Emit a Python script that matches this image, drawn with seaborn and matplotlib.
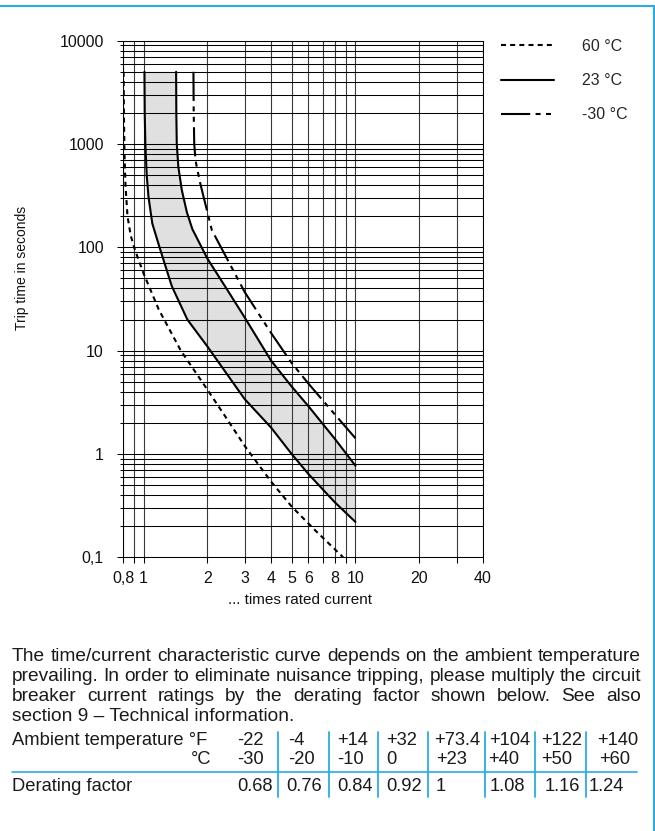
import matplotlib
matplotlib.use("Agg")
import matplotlib.pyplot as plt
from matplotlib.lines import Line2D
from matplotlib.ticker import FixedLocator, FixedFormatter, NullFormatter
import pandas as pd
import seaborn as sns

# ---------------- data ----------------
current_60 = [0.805, 0.808, 0.813, 0.822, 0.84, 0.87, 0.91, 1.0, 1.18, 1.5, 2.0, 2.4, 3.0, 4.0, 5.0, 6.5, 8.75]
time_60 = [5000, 2000, 800, 400, 200, 130, 95, 56, 25, 10, 4.2, 2.4, 1.2, 0.54, 0.31, 0.18, 0.1]

current_23_low = [1.01, 1.013, 1.02, 1.035, 1.055, 1.1, 1.19, 1.36, 1.61, 2.0, 3.0, 4.0, 5.0, 6.0, 8.0, 10.0]
time_23_low = [5000, 2000, 1000, 500, 310, 170, 100, 42, 20, 11, 3.4, 1.8, 1.0, 0.64, 0.34, 0.22]

current_23_high = [1.425, 1.428, 1.435, 1.46, 1.515, 1.6, 1.7, 2.0, 2.5, 3.0, 4.0, 5.0, 6.0, 8.0, 10.0]
time_23_high = [5000, 2000, 1000, 600, 360, 220, 150, 78, 38, 21, 8.0, 4.5, 2.9, 1.4, 0.77]

current_m30 = [1.72, 1.725, 1.735, 1.75, 1.77, 1.85, 2.0, 2.1, 2.5, 3.0, 4.0, 5.0, 6.0, 8.0, 10.0]
time_m30 = [5000, 2000, 1000, 800, 650, 420, 220, 147, 75, 37, 14.8, 7.6, 4.8, 2.41, 1.42]

legend_labels = ["60 °C", "23 °C", "-30 °C"]

x_ticks = [0.8, 1, 2, 3, 4, 5, 6, 8, 10, 20, 40]
x_tick_labels = ["0,8", "1", "2", "3", "4", "5", "6", "8", "10", "20", "40"]
x_minor_ticks = [0.9, 7, 9, 30]
y_ticks = [0.1, 1, 10, 100, 1000, 10000]
y_tick_labels = ["0,1", "1", "10", "100", "1000", "10000"]

x_label = "... times rated current"
y_label = "Trip time in seconds"

paragraph = [
    "The time/current characteristic curve depends on the ambient temperature",
    "prevailing. In order to eliminate nuisance tripping, please multiply the circuit",
    "breaker current ratings by the derating factor shown below. See also",
    "section 9 \u2013 Technical information.",
]

row_label_F = "Ambient temperature °F"
row_label_C = "°C"
row_label_D = "Derating factor"
temps_F = ["-22", "-4", "+14", "+32", "+73.4", "+104", "+122", "+140"]
temps_C = ["-30", "-20", "-10", "0", "+23", "+40", "+50", "+60"]
derating = ["0.68", "0.76", "0.84", "0.92", "1", "1.08", "1.16", "1.24"]

# ---------------- build table for seaborn ----------------
records = []
for temp, unit, xs, ys in [
    ("60 °C", "a", current_60, time_60),
    ("23 °C", "b", current_23_low, time_23_low),
    ("23 °C", "c", current_23_high, time_23_high),
    ("-30 °C", "d", current_m30, time_m30),
]:
    for x, y in zip(xs, ys):
        records.append({"current": x, "time": y, "temp": temp, "curve": unit})
df = pd.DataFrame(records)

# ---------------- style ----------------
sns.set_style("white")
plt.rcParams["font.family"] = ["Liberation Sans", "DejaVu Sans"]
BLUE = "#2aabe2"
W, H = 655, 831
fig = plt.figure(figsize=(W / 100, H / 100), dpi=100)
fig.patch.set_facecolor("white")


def fx(px):
    return px / W


def fy(py):
    return 1 - py / H


ax = fig.add_axes([fx(123), fy(557.3), fx(483) - fx(123), fy(40.7) - fy(557.3)])
ax.set_xscale("log")
ax.set_yscale("log")

# grey band between the two 23 °C curves
band_x = list(current_23_high) + list(current_23_low[::-1])
band_y = list(time_23_high) + list(time_23_low[::-1])
ax.fill(band_x, band_y, color="#e0e0e0", lw=0, zorder=1)

dash_map = {"60 °C": (2.4, 2.0), "23 °C": "", "-30 °C": (14, 2.6, 2.4, 2.6, 2.4, 2.6)}
sns.lineplot(data=df, x="current", y="time", style="temp", units="curve",
             estimator=None, sort=False, color="black", linewidth=1.5,
             style_order=legend_labels, dashes=dash_map, ax=ax, zorder=3)

ax.set_xlim(0.8, 40)
ax.set_ylim(0.1, 10000)

ax.xaxis.set_major_locator(FixedLocator(x_ticks))
ax.xaxis.set_major_formatter(FixedFormatter(x_tick_labels))
ax.xaxis.set_minor_locator(FixedLocator(x_minor_ticks))
ax.xaxis.set_minor_formatter(NullFormatter())
ax.yaxis.set_major_locator(FixedLocator(y_ticks))
ax.yaxis.set_major_formatter(FixedFormatter(y_tick_labels))
ax.yaxis.set_minor_locator(FixedLocator([m * 10.0 ** e for e in range(-1, 4) for m in range(2, 10)]))
ax.yaxis.set_minor_formatter(NullFormatter())

ax.tick_params(axis="x", which="both", direction="out", length=4.2, width=0.75,
               color="black", labelsize=11.5, pad=5.5, bottom=True)
ax.tick_params(axis="y", which="major", direction="out", length=4.2, width=0.75,
               color="black", labelsize=11.5, pad=9.5, left=True)
ax.tick_params(axis="y", which="minor", direction="out", length=2.0, width=0.75,
               color="black", left=True)
ax.tick_params(labelcolor="#111111")

ax.set_axisbelow("line")
ax.yaxis.grid(True, which="both", color="black", linewidth=0.75)
ax.xaxis.grid(True, which="both", color="#3a3a3a", linewidth=0.8)
for s in ax.spines.values():
    s.set_visible(True)
    s.set_color("black")
    s.set_linewidth(0.75)

ax.set_xlabel(x_label, fontsize=11, va="center", ha="center", color="#111111")
ax.xaxis.set_label_coords((300 - 123) / 360, (557.3 - 600.5) / 516.6)
ax.set_ylabel(y_label, fontsize=10, va="center", ha="center", color="#111111")
ax.yaxis.set_label_coords((22.5 - 123) / 360, 1 - (268.3 - 40.7) / 516.6)

sns.move_legend(ax, "upper left", bbox_to_anchor=(fx(501), fy(39)),
                bbox_transform=fig.transFigure, frameon=False, title=None,
                fontsize=11.5, handlelength=3.3, handletextpad=1.75,
                labelspacing=1.2, borderpad=0, borderaxespad=0)

# ---------------- text below chart ----------------
renderer = fig.canvas.get_renderer()


def width_of(s, size):
    t = fig.text(0, 0, s, fontsize=size)
    w = t.get_window_extent(renderer).width
    t.remove()
    return w


TXT = "#1a1a1a"
x0, x1 = 12, 641
para_size = 12 * (x1 - x0) / width_of(paragraph[0], 12)
para_base = [661, 681, 701, 721]
for i, line in enumerate(paragraph):
    if i < 3:
        words = line.split(" ")
        widths = [width_of(w, para_size) for w in words]
        gap = ((x1 - x0) - sum(widths)) / (len(words) - 1)
        x = x0
        for w, wd in zip(words, widths):
            fig.text(fx(x), fy(para_base[i]), w, fontsize=para_size, va="baseline", color=TXT)
            x += wd + gap
    else:
        fig.text(fx(x0), fy(para_base[i]), line, fontsize=para_size, va="baseline", color=TXT)

tab_size = 12 * 196 / width_of(row_label_F, 12)
row_base = [745, 764.5, 791]
fig.text(fx(12), fy(row_base[0]), row_label_F, fontsize=tab_size, va="baseline", color=TXT)
fig.text(fx(191), fy(row_base[1]), row_label_C, fontsize=tab_size, va="baseline", color=TXT)
fig.text(fx(12), fy(row_base[2]), row_label_D, fontsize=tab_size, va="baseline", color=TXT)

col_F = [237, 288, 337.5, 386.4, 434.4, 489, 541, 597]
col_C = [237, 288, 337.5, 386.4, 435.7, 488, 541, 599]
col_D = [237, 286.5, 337.5, 386.4, 435.7, 489.5, 545, 589]
for vals, cols, yb in [(temps_F, col_F, row_base[0]), (temps_C, col_C, row_base[1]), (derating, col_D, row_base[2])]:
    for v, cx in zip(vals, cols):
        fig.text(fx(cx), fy(yb), v, fontsize=tab_size, va="baseline", color=TXT)

for sx in [278, 329, 378, 428, 484.5, 535, 586]:
    fig.add_artist(Line2D([fx(sx), fx(sx)], [fy(732), fy(797)], transform=fig.transFigure,
                          color=BLUE, lw=1.3))
fig.add_artist(Line2D([fx(12), fx(637)], [fy(771.5), fy(771.5)], transform=fig.transFigure,
                      color=BLUE, lw=1.2))

# page frame lines (top and right)
fig.add_artist(Line2D([0, fx(653.5)], [fy(6), fy(6)], transform=fig.transFigure, color=BLUE, lw=1.5))
fig.add_artist(Line2D([fx(653.5), fx(653.5)], [fy(6), 0], transform=fig.transFigure, color=BLUE, lw=1.5))

fig.savefig("out.png", dpi=100, facecolor="white")
